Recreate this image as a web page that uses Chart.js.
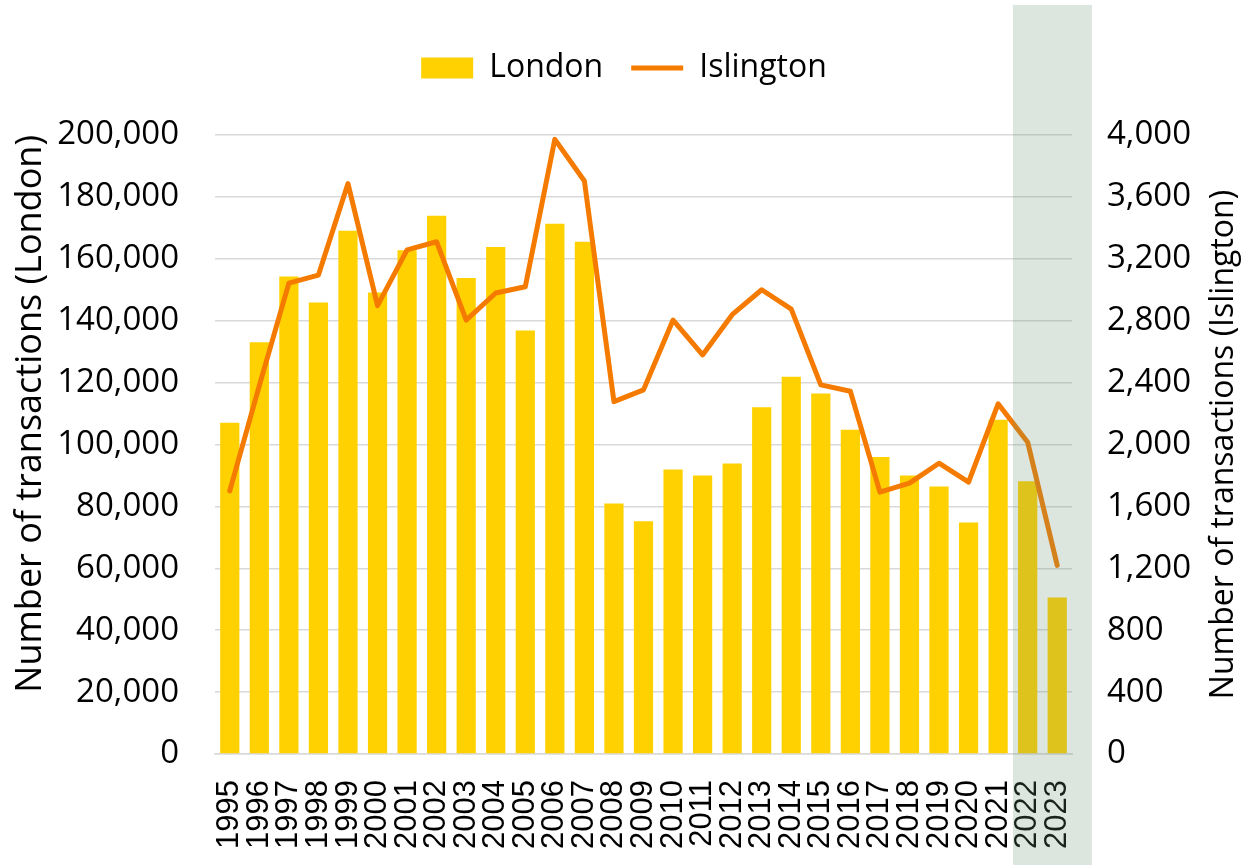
<!DOCTYPE html>
<html>
<head>
<meta charset="utf-8">
<script src="https://cdn.jsdelivr.net/npm/chart.js@4"></script>
<style>
  html, body { margin: 0; padding: 0; background: #fff; }
  #wrap { width: 1243px; height: 865px; position: relative; }
</style>
</head>
<body>
<div id="wrap"><canvas id="chart"></canvas></div>
<script>
// London vs Islington property transactions, 1995-2023

const years = ["1995", "1996", "1997", "1998", "1999", "2000", "2001", "2002", "2003", "2004",
  "2005", "2006", "2007", "2008", "2009", "2010", "2011", "2012", "2013", "2014",
  "2015", "2016", "2017", "2018", "2019", "2020", "2021", "2022", "2023"];

const london = [107000, 133000, 154300, 145900, 169100, 149100, 162800, 173900, 153800, 163800,
  136800, 171300, 165500, 80900, 75200, 91900, 90000, 93900, 112000, 121900,
  116500, 104800, 96000, 90000, 86400, 74800, 108000, 88100, 50600];

const islington = [1700, 2380, 3043, 3095, 3686, 2897, 3258, 3310, 2804, 2979,
  3019, 3972, 3703, 2277, 2353, 2804, 2579, 2839, 3000, 2875,
  2385, 2344, 1692, 1750, 1879, 1757, 2263, 2015, 1219];

const leftTicks = [0, 20000, 40000, 60000, 80000, 100000, 120000, 140000, 160000, 180000, 200000];
const rightTicks = [0, 400, 800, 1200, 1600, 2000, 2400, 2800, 3200, 3600, 4000];

// years drawn under the grey band
const shadedFrom = "2022";

const rightTitle = "Number of transactions (Islington)";
const rightTitleFont = "32px 'Open Sans'";

const tickFont = { family: "'Open Sans'", size: 33 };
const fmt = v => Number(v).toLocaleString("en-US");

// extra room under the legend
const legendGap = {
  id: "legendGap",
  beforeInit(chart) {
    const fit = chart.legend.fit;
    chart.legend.fit = function () {
      fit.bind(chart.legend)();
      this.height += 41;
    };
  }
};

// translucent band over the last two years + right title read bottom-to-top
const extras = {
  id: "extras",
  afterDraw(chart) {
    const c = chart.ctx;
    const area = chart.chartArea;
    const r = chart.scales.y1;
    c.save();
    c.fillStyle = "#000";
    c.font = rightTitleFont;
    c.textAlign = "center";
    c.textBaseline = "middle";
    c.translate(r.right - 19, (area.top + area.bottom) / 2);
    c.rotate(-Math.PI / 2);
    c.fillText(rightTitle, 0, 0);
    c.restore();

    const x = chart.scales.x;
    const i = years.indexOf(shadedFrom);
    const left = (x.getPixelForValue(i - 1) + x.getPixelForValue(i)) / 2;
    const right = area.right + 20;
    c.save();
    c.fillStyle = "rgba(112, 150, 116, 0.235)";
    c.fillRect(left, 5, right - left, chart.height - 5);
    c.restore();
  }
};

new Chart(document.getElementById("chart"), {
  data: {
    labels: years,
    datasets: [
      {
        type: "bar",
        label: "London",
        data: london,
        backgroundColor: "#FFD100",
        yAxisID: "y",
        order: 2,
        pointStyle: "rect",
        categoryPercentage: 1,
        barPercentage: 0.65
      },
      {
        type: "line",
        label: "Islington",
        data: islington,
        borderColor: "#F57B00",
        backgroundColor: "#F57B00",
        borderWidth: 5,
        borderJoinStyle: "round",
        borderCapStyle: "round",
        pointRadius: 0,
        pointStyle: "line",
        tension: 0,
        yAxisID: "y1",
        order: 1
      }
    ]
  },
  options: {
    responsive: true,
    maintainAspectRatio: false,
    animation: false,
    layout: { padding: { top: 24, left: 5, right: 0, bottom: 14 } },
    plugins: {
      tooltip: { enabled: false },
      legend: {
        position: "top",
        labels: {
          usePointStyle: true,
          pointStyleWidth: 52,
          boxHeight: 21,
          padding: 28,
          color: "#000",
          font: { family: "'Open Sans'", size: 32 },
          sort: (a, b) => a.datasetIndex - b.datasetIndex
        }
      }
    },
    scales: {
      x: {
        afterFit: s => { s.height = 97; },
        grid: { display: false, drawTicks: false },
        border: { display: true, color: "#d9d9d9", width: 1.5 },
        ticks: {
          color: "#000",
          font: { family: "'Liberation Sans'", size: 31 },
          minRotation: 90,
          maxRotation: 90,
          padding: 26,
          autoSkip: false
        }
      },
      y: {
        position: "left",
        min: 0,
        max: 200000,
        afterFit: s => { s.width = 210; },
        afterBuildTicks: axis => { axis.ticks = leftTicks.map(v => ({ value: v })); },
        grid: { color: "#d9d9d9", lineWidth: 1.5, drawTicks: false },
        border: { display: false },
        ticks: { color: "#000", font: tickFont, padding: 36, callback: fmt },
        title: {
          display: true,
          text: "Number of transactions (London)",
          align: "end",
          color: "#000",
          font: { family: "'Open Sans'", size: 36, lineHeight: 1.2 },
          padding: { top: 4, bottom: 9 }
        }
      },
      y1: {
        position: "right",
        min: 0,
        max: 4000,
        afterFit: s => { s.width = 171; },
        afterBuildTicks: axis => { axis.ticks = rightTicks.map(v => ({ value: v })); },
        grid: { drawOnChartArea: false, drawTicks: false },
        border: { display: false },
        ticks: { color: "#000", font: tickFont, padding: 35, callback: fmt }
      }
    }
  },
  plugins: [legendGap, extras]
});
</script>
</body>
</html>
